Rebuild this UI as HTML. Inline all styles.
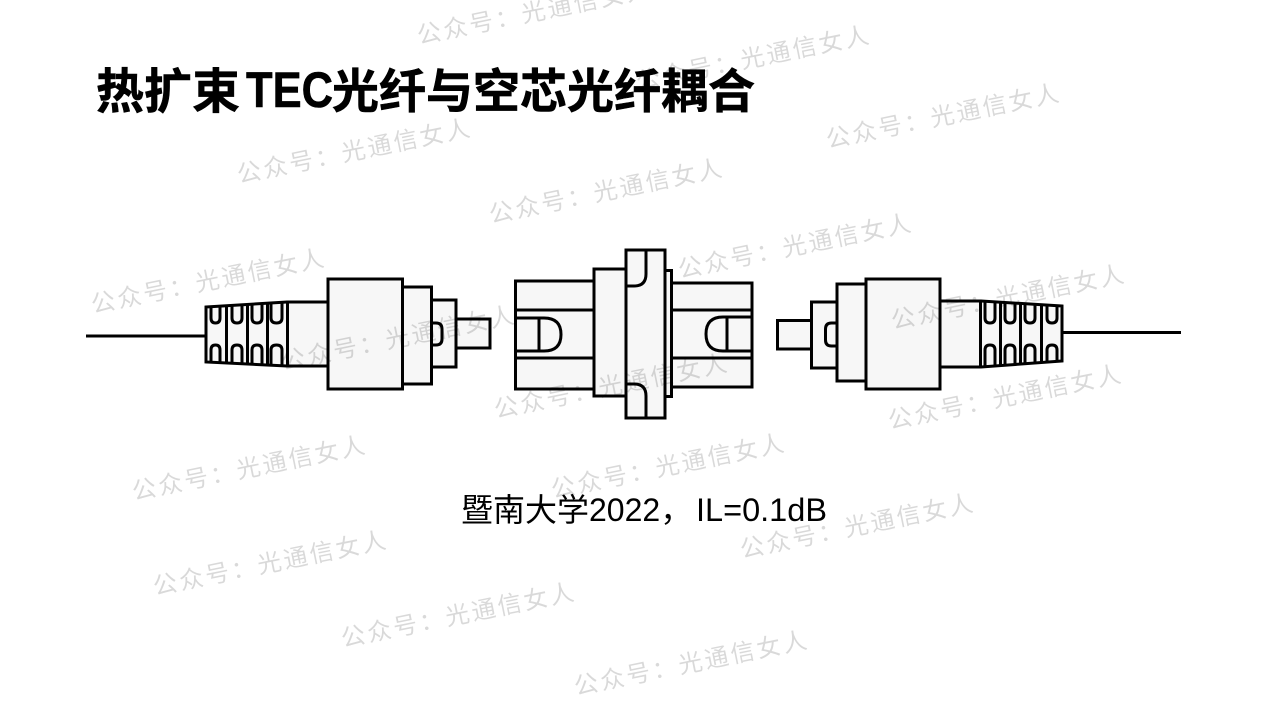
<!DOCTYPE html>
<html lang="zh"><head><meta charset="utf-8"><style>
html,body{margin:0;padding:0;background:#fff;width:1268px;height:713px;overflow:hidden}
svg{display:block}
.l{fill:#f7f7f7;stroke:#000;stroke-width:3;stroke-linejoin:miter}
.n{fill:none;stroke:#000;stroke-width:3}
.w{font-family:"Liberation Sans","Noto Sans CJK SC",sans-serif;font-size:24px;fill:#000;fill-opacity:.15;letter-spacing:2.6px}
.t{font-family:"Liberation Sans","Noto Sans CJK SC",sans-serif;font-weight:bold;font-size:47px;fill:#000}
.c{font-family:"Liberation Sans","Noto Sans CJK SC",sans-serif;font-size:32px;fill:#000}
</style></head><body>
<svg width="1268" height="713" viewBox="0 0 1268 713" xmlns="http://www.w3.org/2000/svg">
<!-- left connector -->
<path class="n" d="M86 336H206"/>
<path class="l" d="M206 307L287 302H328V366H287L206 362Z"/>
<path class="n" d="M226.500 306V363M247.500 304V364M267.500 303V365M287.500 302V366"/>
<path class="n" d="M211 307V318Q211 323 215.500 323Q220 323 220 318V306M232 306V318Q232 323 237 323Q242 323 242 318V305M252 305V318Q252 323 257 323Q262 323 262 318V304M271 303V318Q271 323 276.500 323Q282 323 282 318V303"/>
<path class="n" d="M211 362V350Q211 345 215.500 345Q220 345 220 350V363M232 363V350Q232 345 237 345Q242 345 242 350V364M252 364V350Q252 345 257 345Q262 345 262 350V365M271 365V350Q271 345 276.500 345Q282 345 282 350V366"/>
<rect class="l" x="456" y="319" width="34" height="29"/>
<rect class="l" x="431" y="300" width="25" height="67"/>
<path class="n" d="M431 323H436Q442 323 442 329V339Q442 345 436 345H431"/>
<rect class="l" x="402.500" y="287" width="29" height="97"/>
<rect class="l" x="328" y="279" width="74.500" height="110"/>
<!-- adapter -->
<rect class="l" x="515.500" y="281" width="79" height="108"/>
<path class="n" d="M515.500 310H594M515.500 358H594"/>
<path class="n" d="M515.500 318H544Q561 318 561 334.500Q561 351 544 351H515.500M539 318V351"/>
<rect class="l" x="671" y="283" width="81" height="104"/>
<path class="n" d="M671 310H752M671 358H752"/>
<path class="n" d="M752 317H723Q706 317 706 334Q706 351 723 351H752M727 317V351"/>
<rect class="l" x="665" y="270.500" width="6.500" height="126"/>
<rect class="l" x="594" y="269" width="32" height="127"/>
<rect class="l" x="626" y="250" width="39" height="168"/>
<path class="n" d="M646 250V274Q646 286 634 286H626M626 384H634Q646 384 646 396V418"/>
<!-- right connector -->
<path class="n" d="M1062 332.500H1181"/>
<path class="l" d="M1062 306L981 301H940V367H981L1062 361Z"/>
<path class="n" d="M980.500 301V367M1000.500 303V366M1020.500 304V364M1041.500 305V363"/>
<path class="n" d="M985 302V318Q985 323 990 323Q995 323 995 318V303M1005 303V318Q1005 323 1010 323Q1015 323 1015 318V304M1025 304V318Q1025 323 1030 323Q1035 323 1035 318V305M1047 305V318Q1047 323 1052 323Q1057 323 1057 318V306"/>
<path class="n" d="M985 367V350Q985 345 990 345Q995 345 995 350V366M1005 366V350Q1005 345 1010 345Q1015 345 1015 350V365M1025 365V350Q1025 345 1030 345Q1035 345 1035 350V364M1047 363V350Q1047 345 1052 345Q1057 345 1057 350V362"/>
<rect class="l" x="777.500" y="320.500" width="34" height="28.500"/>
<rect class="l" x="811.500" y="302" width="25.500" height="66"/>
<path class="n" d="M837 323H831.500Q825.500 323 825.500 329V340Q825.500 346 831.500 346H837"/>
<rect class="l" x="837" y="284" width="29" height="97"/>
<rect class="l" x="866" y="279" width="74" height="110"/>
<!-- watermarks -->
<g class="wm">
<text class="w" transform="translate(419,44) rotate(-11.5)">公众号&#xFF1A;光通信女人</text>
<text class="w" transform="translate(638,90) rotate(-11.5)">公众号&#xFF1A;光通信女人</text>
<text class="w" transform="translate(828,148) rotate(-11.5)">公众号&#xFF1A;光通信女人</text>
<text class="w" transform="translate(239,183) rotate(-11.5)">公众号&#xFF1A;光通信女人</text>
<text class="w" transform="translate(491,223) rotate(-11.5)">公众号&#xFF1A;光通信女人</text>
<text class="w" transform="translate(93,313) rotate(-11.5)">公众号&#xFF1A;光通信女人</text>
<text class="w" transform="translate(680,278) rotate(-11.5)">公众号&#xFF1A;光通信女人</text>
<text class="w" transform="translate(893,329) rotate(-11.5)">公众号&#xFF1A;光通信女人</text>
<text class="w" transform="translate(283,370) rotate(-11.5)">公众号&#xFF1A;光通信女人</text>
<text class="w" transform="translate(496,418) rotate(-11.5)">公众号&#xFF1A;光通信女人</text>
<text class="w" transform="translate(890,429) rotate(-11.5)">公众号&#xFF1A;光通信女人</text>
<text class="w" transform="translate(134,500) rotate(-11.5)">公众号&#xFF1A;光通信女人</text>
<text class="w" transform="translate(553,498) rotate(-11.5)">公众号&#xFF1A;光通信女人</text>
<text class="w" transform="translate(742,558) rotate(-11.5)">公众号&#xFF1A;光通信女人</text>
<text class="w" transform="translate(155,595) rotate(-11.5)">公众号&#xFF1A;光通信女人</text>
<text class="w" transform="translate(343,647) rotate(-11.5)">公众号&#xFF1A;光通信女人</text>
<text class="w" transform="translate(576,695) rotate(-11.5)">公众号&#xFF1A;光通信女人</text>
</g>
<!-- title -->
<text class="t" x="96" y="108" style="font-size:48px" stroke="#000" stroke-width=".6">热扩束</text>
<text class="t" x="246" y="107" style="font-size:50px" textLength="87" lengthAdjust="spacingAndGlyphs" stroke="#000" stroke-width=".6">TEC</text>
<text class="t" x="332" y="108" stroke="#000" stroke-width=".6">光纤与空芯光纤耦合</text>
<!-- caption -->
<text class="c" x="461" y="521">暨南大学2022&#xFF0C;</text>
<text class="c" x="696" y="521" textLength="131" lengthAdjust="spacingAndGlyphs">IL=0.1dB</text>
</svg>
</body></html>
